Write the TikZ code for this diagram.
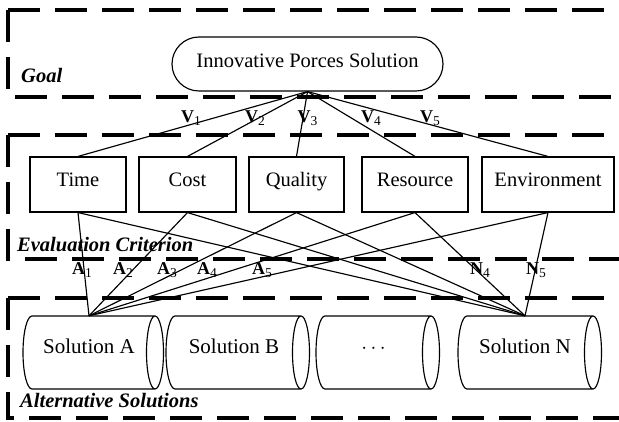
\documentclass[tikz,border=0pt]{standalone}
\usepackage{fontspec}
\setmainfont{Liberation Serif}
\newcommand\subs[1]{\raisebox{-2.5pt}{\fontsize{13.5}{13.5}\selectfont\mdseries #1}}
\newcommand\cylout[2]{%
  \draw[cyl] (#1,316) arc[start angle=90,end angle=270,x radius=9pt,y radius=36.5pt] -- (#2,389)
    (#1,316) -- (#2,316)
    (#2,352.5) ellipse[x radius=8.5pt,y radius=36.5pt];}
\begin{document}
\begin{tikzpicture}[x=1pt,y=-1pt,
  frame/.style={line width=3.5pt,dash pattern=on 32pt off 15pt},
  conn/.style={line width=1.15pt},
  cyl/.style={line width=1.15pt},
  crit/.style={draw,line width=1.15pt,minimum height=55pt,inner sep=0pt,
    text height=14pt,text depth=9pt,font=\fontsize{20.5}{24}\selectfont},
  lab/.style={inner sep=0pt,anchor=base,font=\fontsize{18}{22}\selectfont\bfseries},
  zone/.style={inner sep=0pt,anchor=base west,font=\fontsize{20.5}{24}\selectfont\bfseries\itshape},
  soltext/.style={inner sep=0pt,minimum height=73pt,text height=14pt,text depth=13pt,
    font=\fontsize{21}{24}\selectfont}
]
\useasboundingbox (0,0) rectangle (619,422);
% frames
\draw[frame] (8,10) -- (619,10);
\draw[frame] (8,10) -- (8,97) -- (619,97);
\draw[frame] (8,135) -- (607,135);
\draw[frame] (8,135) -- (8,259) -- (619,259);
\draw[frame] (8,298) -- (619,298);
\draw[frame] (8,298) -- (8,418) -- (619,418);
% zone labels
\node[zone] (zgoal) at (21,83) {Goal};
\node[zone] (zeval) at (17,252) {Evaluation Criterion};
\node[zone] (zalt) at (20,407) {Alternative Solutions};
% goal
\node[draw,line width=1.15pt,rounded corners=27pt,minimum width=271pt,minimum height=54pt,
  inner sep=0pt,text height=14pt,text depth=6pt,font=\fontsize{20.5}{24}\selectfont]
  (goal) at (307.5,64) {Innovative Porces Solution};
% criteria
\node[crit,minimum width=96pt] (time) at (78,184.5) {Time};
\node[crit,minimum width=97pt] (cost) at (187.5,184.5) {Cost};
\node[crit,minimum width=95pt] (quality) at (296.5,184.5) {Quality};
\node[crit,minimum width=106pt] (resource) at (415,184.5) {Resource};
\node[crit,minimum width=132pt] (env) at (548,184.5) {Environment};
% solutions
\cylout{32}{155}
\cylout{175}{301}
\cylout{325}{431}
\cylout{467}{593}
\node[soltext] (solA) at (89,352.5) {Solution A};
\node[soltext] (solB) at (234,352.5) {Solution B};
\node[soltext] (solD) at (373.5,352.5) {$\cdots$};
\node[soltext] (solN) at (525,352.5) {Solution N};
% connectors
\foreach \c in {time,cost,quality,resource,env}{
  \draw[conn] (goal.south) -- (\c.north);
  \draw[conn] (\c.south) -- (solA.north);
  \draw[conn] (\c.south) -- (solN.north);
}
% weights
\node[lab] (v1) at (191,123) {V\subs{1}};
\node[lab] (v2) at (255,123) {V\subs{2}};
\node[lab] (v3) at (307.5,123) {V\subs{3}};
\node[lab] (v4) at (371,123) {V\subs{4}};
\node[lab] (v5) at (430,123) {V\subs{5}};
\node[lab] (a1) at (82,275) {A\subs{1}};
\node[lab] (a2) at (123,275) {A\subs{2}};
\node[lab] (a3) at (167,275) {A\subs{3}};
\node[lab] (a4) at (207,275) {A\subs{4}};
\node[lab] (a5) at (262,275) {A\subs{5}};
\node[lab] (n4) at (480,275) {N\subs{4}};
\node[lab] (n5) at (536,275) {N\subs{5}};
\end{tikzpicture}
\end{document}
